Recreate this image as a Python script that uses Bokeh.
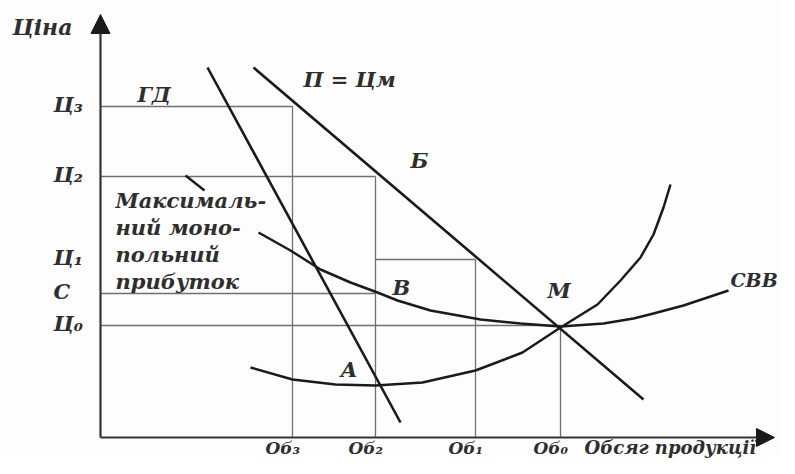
from bokeh.plotting import figure
from bokeh.models import Range1d, Arrow, NormalHead
from bokeh.core.properties import value
from bokeh.embed import file_html
from bokeh.resources import INLINE

# ---- data (quantity units, price units) ----
price_labels = ["Ц₃", "Ц₂", "Ц₁", "С", "Ц₀"]
price_values = [33.1, 26.1, 17.8, 14.4, 11.2]
qty_labels = ["Об₃", "Об₂", "Об₁", "Об₀"]
qty_values = [19.2, 27.5, 37.5, 46.0]

# demand line  П = Цм
demand_q = [15.3, 54.3]
demand_p = [37.0, 3.8]
# marginal revenue line  ГД
mr_q = [10.7, 30.0]
mr_p = [37.0, 1.5]
# marginal cost curve
mc_q = [15.0, 19.2, 23.5, 27.5, 32.2, 37.5, 42.2, 46.0, 49.7, 52.0, 54.0, 55.3, 56.3, 57.0]
mc_p = [7.0, 5.8, 5.3, 5.2, 5.5, 6.7, 8.5, 11.0, 13.3, 15.7, 18.0, 20.3, 23.0, 25.3]
# average total cost curve  СВВ
ac_q = [15.8, 19.0, 22.0, 25.0, 27.7, 29.7, 33.0, 38.0, 42.0, 46.0, 50.3, 53.3, 55.3, 58.3, 62.8]
ac_p = [20.5, 18.7, 16.8, 15.5, 14.5, 13.7, 12.7, 11.8, 11.4, 11.1, 11.4, 11.9, 12.4, 13.2, 14.7]

profit_text = ["Максималь-", "ний моно-", "польний", "прибуток"]

FONT = value("DejaVu Serif")
STYLE = "bold italic"
INK = "#1a1a1a"
TXT = "#2e2e2e"
GRID = "#707070"

p = figure(width=779, height=458, output_backend="svg", toolbar_location=None,
           x_range=Range1d(-10.0, 67.9), y_range=Range1d(-2.1, 43.7),
           x_axis_type=None, y_axis_type=None, min_border=0)
p.grid.visible = False
p.outline_line_color = None
p.background_fill_color = "#fdfdfd"
p.border_fill_color = "#fdfdfd"

P3, P2, P1, C, P0 = price_values
Q3, Q2, Q1, Q0 = qty_values

# thin guide rectangles
x0 = [0, Q3, 0, Q2, Q2, Q1, 0, 0, Q0]
y0 = [P3, 0, P2, 0, P1, 0, C, P0, 0]
x1 = [Q3, Q3, Q2, Q2, Q1, Q1, Q2, Q0, Q0]
y1 = [P3, P3, P2, P2, P1, P1, C, P0, P0]
p.segment(x0=x0, y0=y0, x1=x1, y1=y1, line_color=GRID, line_width=1.3)

# curves
p.line(demand_q, demand_p, line_color=INK, line_width=2.6)
p.line(mr_q, mr_p, line_color=INK, line_width=2.6)
p.line(mc_q, mc_p, line_color=INK, line_width=2.5, line_join="round")
p.line(ac_q, ac_p, line_color=INK, line_width=2.5, line_join="round")

# leader line from the profit note
p.line([8.5, 10.4], [26.2, 24.7], line_color=INK, line_width=2.4)

# axes with arrow heads
p.add_layout(Arrow(end=NormalHead(size=19, fill_color=INK, line_color=INK),
                   x_start=0, y_start=0, x_end=0, y_end=42.3,
                   line_color="#333333", line_width=2.2))
p.add_layout(Arrow(end=NormalHead(size=18, fill_color=INK, line_color=INK),
                   x_start=0, y_start=0, x_end=67.4, y_end=0,
                   line_color="#333333", line_width=2.2))

def txt(x, y, s, size="21px", align="left", baseline="middle"):
    p.text(x=[x], y=[y], text=[s], text_font=FONT, text_font_style=STYLE,
           text_font_size=size, text_color=TXT, text_align=align,
           text_baseline=baseline)

# price tick labels
for lab, val in zip(price_labels, price_values):
    txt(-4.7, val + 0.2, lab)
# quantity tick labels
for lab, val in zip(qty_labels, qty_values):
    txt(val - 2.7, -1.0, lab, size="17px")
txt(48.4, -1.0, "Обсяг продукції", size="18px")
txt(-8.8, 41.1, "Ціна", size="22px")

txt(3.7, 34.3, "ГД")
txt(20.3, 35.8, "П = Цм")
txt(31.0, 27.7, "Б")
txt(29.2, 15.0, "В")
txt(44.7, 14.7, "М")
txt(24.0, 6.8, "А")
txt(63.0, 15.8, "СВВ", size="19px")
for i, line in enumerate(profit_text):
    txt(1.5, 23.7 - i * 2.7, line)

open("out.html", "w").write(file_html(p, INLINE))
